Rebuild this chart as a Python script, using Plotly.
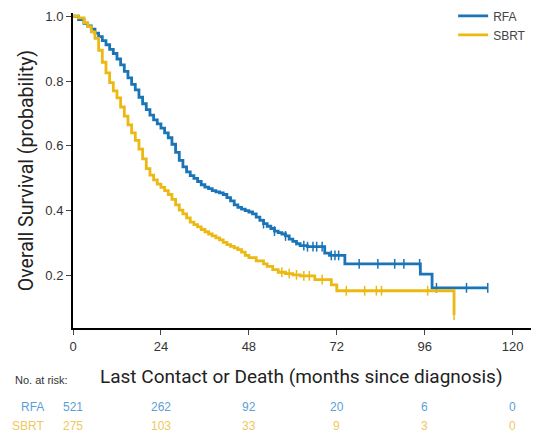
import numpy as np
import plotly.graph_objects as go

# ---- data ----
rfa_t = [0, 1.5, 3, 4, 5, 6, 7, 8, 9, 10, 11, 12, 13, 14, 15, 16, 17, 18, 19, 20,
         21, 22, 23, 24, 25, 26, 27, 28, 29, 30, 31, 32, 33, 34, 35, 36, 37, 38, 39, 40,
         41, 42, 43, 44, 45, 46, 47, 48, 49, 50, 51, 52, 53, 54, 55, 56, 57, 58, 59, 60,
         61, 62, 64, 68.7, 70, 74.2, 94.8, 98, 113.2]
rfa_s = [1.0, 0.99, 0.978, 0.97, 0.96, 0.948, 0.937, 0.925, 0.912, 0.898, 0.885, 0.868, 0.85, 0.83, 0.81, 0.79, 0.773, 0.75, 0.73, 0.712,
         0.695, 0.68, 0.668, 0.655, 0.64, 0.625, 0.605, 0.58, 0.555, 0.535, 0.52, 0.508, 0.5, 0.49, 0.48, 0.473, 0.468, 0.462, 0.458, 0.455,
         0.45, 0.44, 0.43, 0.418, 0.41, 0.405, 0.40, 0.396, 0.39, 0.38, 0.37, 0.36, 0.352, 0.345, 0.337, 0.332, 0.328, 0.322, 0.312, 0.305,
         0.298, 0.292, 0.289, 0.269, 0.262, 0.236, 0.204, 0.162, 0.162]

sbrt_t = [0, 1.5, 3, 4, 5, 6, 7, 8, 9, 10, 11, 12, 13, 14, 15, 16, 17, 18, 19, 20,
          21, 22, 23, 24, 25, 26, 27, 28, 29, 30, 31, 32, 33, 34, 35, 36, 37, 38, 39, 40,
          41, 42, 43, 44, 45, 46, 47, 48, 50, 52, 53, 54.5, 56, 58, 60, 62, 66, 70.5, 72, 104]
sbrt_s = [1.0, 0.995, 0.98, 0.968, 0.952, 0.932, 0.895, 0.858, 0.825, 0.795, 0.77, 0.748, 0.72, 0.692, 0.665, 0.64, 0.617, 0.59, 0.56, 0.53,
          0.51, 0.495, 0.482, 0.472, 0.462, 0.45, 0.435, 0.418, 0.402, 0.39, 0.378, 0.365, 0.357, 0.35, 0.342, 0.335, 0.328, 0.322, 0.316, 0.31,
          0.302, 0.295, 0.29, 0.285, 0.28, 0.272, 0.262, 0.255, 0.245, 0.236, 0.228, 0.218, 0.21, 0.206, 0.202, 0.199, 0.187, 0.171, 0.153, 0.078]

rfa_censor = [52, 55, 58, 63, 64, 65.5, 66.5, 68, 70.5, 71.5, 72.5, 78.1, 83.2, 87.8, 90.3, 94.6, 99.2, 107.4, 113.2]
sbrt_censor = [57, 59, 61, 63, 64.5, 68, 74.6, 79.6, 82.8, 84.2, 96.8, 104]

risk_times = [0, 24, 48, 72, 96, 120]
rfa_risk = [521, 262, 92, 20, 6, 0]
sbrt_risk = [275, 103, 33, 9, 3, 0]

x_ticks = [0, 24, 48, 72, 96, 120]
y_ticks = [0.2, 0.4, 0.6, 0.8, 1.0]

BLUE = "#1a74b8"
YELLOW = "#ecb812"
RISK_BLUE = "#5b9fd6"
RISK_YELLOW = "#efc860"
TITLE_FONT = "Roboto, Liberation Sans, sans-serif"
FONT = "Liberation Sans, Arial, sans-serif"


def step_value(times, surv, t):
    idx = np.searchsorted(np.array(times), t, side="right") - 1
    return surv[max(idx, 0)]


fig = go.Figure()
for name, t, s, cens, col in [("RFA", rfa_t, rfa_s, rfa_censor, BLUE),
                              ("SBRT", sbrt_t, sbrt_s, sbrt_censor, YELLOW)]:
    fig.add_trace(go.Scatter(x=t, y=s, mode="lines", line=dict(color=col, width=2.8, shape="hv"),
                             name=name, showlegend=True))
    fig.add_trace(go.Scatter(x=cens, y=[step_value(t, s, c) for c in cens], mode="markers",
                             marker=dict(symbol="line-ns", size=7, line=dict(color=col, width=1.5)),
                             showlegend=False, hoverinfo="skip"))

ann = []
ann.append(dict(x=62.4, y=-0.153, xref="x", yref="paper", text="Last Contact or Death (months since diagnosis)",
                showarrow=False, font=dict(family=TITLE_FONT, size=19, color="#222"), xanchor="center", yanchor="middle"))
ann.append(dict(x=-0.13, y=-0.165, xref="paper", yref="paper", text="No. at risk:", showarrow=False,
                font=dict(family=FONT, size=11, color="#333"), xanchor="left", yanchor="middle"))
for row_y, label, vals, col in [(-0.252, "RFA", rfa_risk, RISK_BLUE), (-0.311, "SBRT", sbrt_risk, RISK_YELLOW)]:
    ann.append(dict(x=-0.06, y=row_y, xref="paper", yref="paper", text=label, showarrow=False,
                    font=dict(family=FONT, size=12, color=col), xanchor="right", yanchor="middle"))
    for tt, v in zip(risk_times, vals):
        ann.append(dict(x=tt, y=row_y, xref="x", yref="paper", text=str(v), showarrow=False,
                        font=dict(family=FONT, size=12, color=col), xanchor="center", yanchor="middle"))

fig.update_layout(
    width=549, height=445,
    margin=dict(l=73, r=18, t=12.5, b=116.5, autoexpand=False),
    plot_bgcolor="white", paper_bgcolor="white",
    annotations=ann,
    legend=dict(x=0.83, y=1.037, xanchor="left", yanchor="top", bgcolor="rgba(255,255,255,0)",
                font=dict(family=FONT, size=12, color="#444"),
                tracegroupgap=0, itemwidth=30),
    xaxis=dict(range=[0, 125], tickvals=x_ticks, ticktext=[str(v) for v in x_ticks], automargin=False,
               showline=True, linecolor="black", linewidth=2, ticks="outside", ticklen=5, tickwidth=1,
               tickcolor="#444", showgrid=False, zeroline=False,
               tickfont=dict(family=FONT, size=13, color="#333")),
    yaxis=dict(range=[0.038, 1.01], tickvals=y_ticks, ticktext=["%.1f" % v for v in y_ticks], automargin=False,
               showline=True, linecolor="black", linewidth=2, ticks="outside", ticklen=5, tickwidth=1,
               tickcolor="#444", showgrid=False, zeroline=False,
               title=dict(text="Overall Survival (probability)", font=dict(family=TITLE_FONT, size=19.5, color="#222"), standoff=6),
               tickfont=dict(family=FONT, size=13, color="#333")),
)

fig.write_html("out.html", config={"displayModeBar": False},
               post_script="document.body.style.margin='0';")
